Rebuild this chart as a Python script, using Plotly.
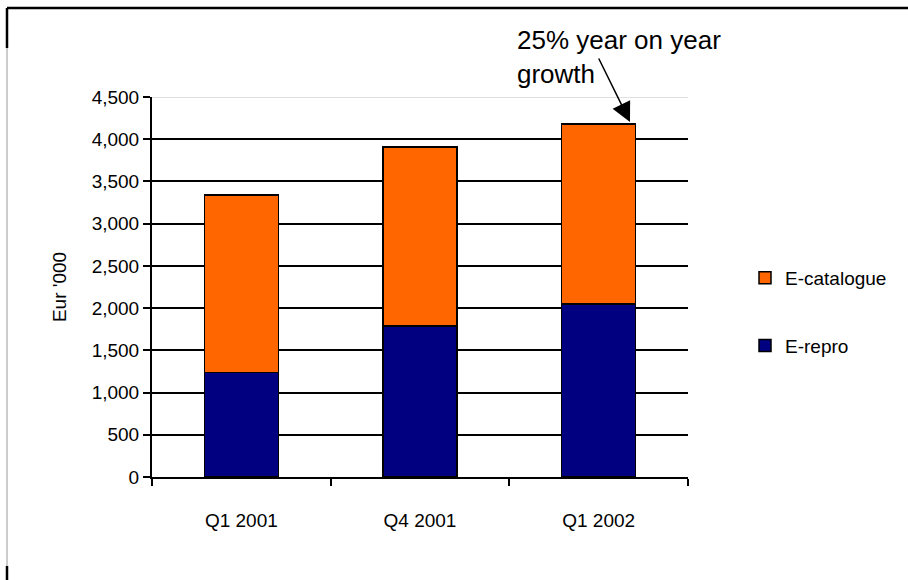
import plotly.graph_objects as go

categories = ["Q1 2001", "Q4 2001", "Q1 2002"]
e_repro = [1240, 1790, 2050]
e_catalogue = [2100, 2120, 2130]
y_ticks = [0, 500, 1000, 1500, 2000, 2500, 3000, 3500, 4000, 4500]
y_tick_text = ["0", "500", "1,000", "1,500", "2,000", "2,500", "3,000", "3,500", "4,000", "4,500"]

FONT = "Liberation Sans, Arial, sans-serif"
W, H = 908, 580
L, R, T, B = 152, 220, 97, 103
pw, ph = W - L - R, H - T - B

def px(x):
    return (x - L) / pw

def py(y):
    return (H - B - y) / ph

fig = go.Figure()
fig.add_trace(go.Bar(x=categories, y=e_repro, name="E-repro", legendgroup="a", legendrank=2,
                     marker=dict(color="#000080", line=dict(color="black", width=1.5))))
fig.add_trace(go.Bar(x=categories, y=e_catalogue, name="E-catalogue", legendgroup="b", legendrank=1,
                     marker=dict(color="#FF6600", line=dict(color="black", width=1.5))))

shapes = [
    dict(type="line", xref="paper", yref="y", x0=0, x1=1, y0=4500, y1=4500,
         line=dict(color="#C0C0C0", width=1), layer="above"),
    dict(type="line", xref="paper", yref="paper", x0=px(7), x1=px(908), y0=py(8), y1=py(8),
         line=dict(color="black", width=2.5)),
    dict(type="line", xref="paper", yref="paper", x0=px(7), x1=px(7), y0=py(8), y1=py(48),
         line=dict(color="black", width=2.5)),
    dict(type="line", xref="paper", yref="paper", x0=px(7), x1=px(7), y0=py(48), y1=py(580),
         line=dict(color="#999999", width=1)),
    dict(type="line", xref="paper", yref="paper", x0=px(7), x1=px(7), y0=py(566), y1=py(580),
         line=dict(color="black", width=2.5)),
]

annotations = [
    dict(text="25% year on year<br>growth", xref="paper", yref="paper", x=px(515), y=py(23),
         xanchor="left", yanchor="top", align="left", showarrow=False,
         font=dict(family=FONT, size=26, color="black")),
    dict(text="", xref="paper", yref="y", x=px(630), y=(H - B - 122) / ph * 4500,
         ax=-32, ay=-65, showarrow=True, arrowhead=2, arrowsize=2.6, arrowwidth=1.5,
         arrowcolor="black", standoff=0),
]

fig.update_layout(
    width=W, height=H,
    margin=dict(l=L, r=R, t=T, b=B, pad=0),
    barmode="stack", bargap=0.585,
    paper_bgcolor="white", plot_bgcolor="white",
    font=dict(family=FONT, size=19, color="black"),
    showlegend=True,
    legend=dict(x=px(745), y=py(259), xanchor="left", yanchor="top",
                traceorder="grouped", tracegroupgap=40,
                font=dict(family=FONT, size=19), bgcolor="rgba(0,0,0,0)"),
    xaxis=dict(showline=True, linecolor="black", linewidth=2, ticks="outside",
               tickson="boundaries", ticklen=7, tickwidth=2, tickcolor="black",
               showgrid=False, tickfont=dict(size=19), ticklabelstandoff=25),
    yaxis=dict(range=[0, 4500], tickvals=y_ticks, ticktext=y_tick_text,
               showline=True, linecolor="black", linewidth=2, ticks="outside",
               ticklen=7, tickwidth=2, tickcolor="black",
               showgrid=True, gridcolor="black", gridwidth=1.5,
               zeroline=False, tickfont=dict(size=19),
               title=dict(text="Eur '000", font=dict(size=19), standoff=20)),
    shapes=shapes, annotations=annotations,
)

fig.write_html("out.html", config={"displayModeBar": False},
               post_script="document.body.style.margin='0';")
